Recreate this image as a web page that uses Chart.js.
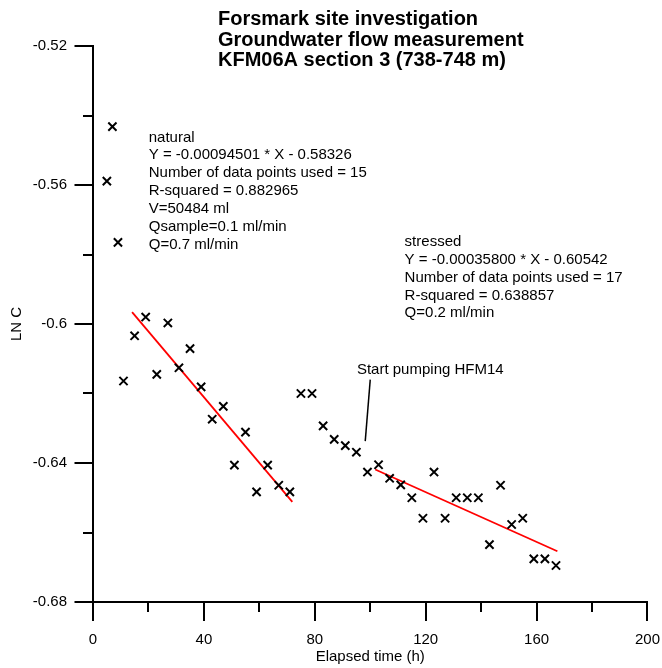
<!DOCTYPE html>
<html>
<head>
<meta charset="utf-8">
<script src="https://cdn.jsdelivr.net/npm/chart.js@4"></script>
<style>
  html, body { margin: 0; padding: 0; background: #fff; }
</style>
</head>
<body>
<canvas id="chart" width="662" height="668"></canvas>
<script>
// elapsed time (h) and LN C for each sample
const hours = [5, 7, 9, 11, 15, 19, 23, 27, 31, 35, 39, 43, 47, 51, 55, 59, 63, 67, 71, 75, 79,
  83, 87, 91, 95, 99, 103, 107, 111, 115, 119, 123, 127, 131, 135, 139, 143, 147, 151, 155, 159, 163, 167];
const lnC = [-0.5589, -0.5432, -0.5765, -0.6164, -0.6034, -0.5980, -0.6145, -0.5997, -0.6126, -0.6071, -0.6181, -0.6274, -0.6237, -0.6406, -0.6311, -0.6483, -0.6406, -0.6464, -0.6483, -0.6200, -0.6200,
  -0.6293, -0.6332, -0.6350, -0.6369, -0.6426, -0.6405, -0.6444, -0.6463, -0.6500, -0.6559, -0.6426, -0.6559, -0.6500, -0.6500, -0.6500, -0.6635, -0.6464, -0.6577, -0.6559, -0.6676, -0.6676, -0.6695];

// regression lines: slope, intercept, fitted time span
const natSlope = -0.00094501, natIntercept = -0.58326, natSpan = [14.1, 71.9];
const strSlope = -0.00035800, strIntercept = -0.60542, strSpan = [101.8, 167.5];

const natText = ['natural', 'Y = -0.00094501 * X - 0.58326', 'Number of data points used = 15',
  'R-squared = 0.882965', 'V=50484 ml', 'Qsample=0.1 ml/min', 'Q=0.7 ml/min'];
const strText = ['stressed', 'Y = -0.00035800 * X - 0.60542', 'Number of data points used = 17',
  'R-squared = 0.638857', 'Q=0.2 ml/min'];
const titleLines = ['Forsmark site investigation', 'Groundwater flow measurement', 'KFM06A section 3 (738-748 m)'];
const pumpLabel = 'Start pumping HFM14';
const pumpLine = [[100.0, -0.6160], [98.2, -0.6337]];

const FONT = '"Liberation Sans", Arial, sans-serif';

function fitLine(slope, icpt, span) {
  return span.map(x => ({ x: x, y: slope * x + icpt }));
}

const points = hours.map((h, i) => ({ x: h, y: lnC[i] }));

// axis ticks (long for labelled, short between), text blocks, title
const extras = {
  id: 'extras',
  afterDraw(chart) {
    const ctx = chart.ctx;
    const xs = chart.scales.x, ys = chart.scales.y;
    const a = chart.chartArea;
    ctx.save();
    ctx.strokeStyle = '#000';
    ctx.lineWidth = 2;
    ctx.beginPath();
    xs.ticks.forEach((t, i) => {
      const px = Math.round(xs.getPixelForValue(t.value));
      ctx.moveTo(px, a.bottom);
      ctx.lineTo(px, a.bottom + (i % 2 === 0 ? 19 : 10));
    });
    ys.ticks.forEach((t, i) => {
      const py = Math.round(ys.getPixelForValue(t.value));
      ctx.moveTo(a.left, py);
      ctx.lineTo(a.left - (i % 2 === 0 ? 18.5 : 10), py);
    });
    ctx.stroke();

    ctx.fillStyle = '#000';
    ctx.textBaseline = 'middle';
    ctx.textAlign = 'left';
    ctx.font = '15px ' + FONT;
    let x0 = xs.getPixelForValue(20.1), y0 = ys.getPixelForValue(-0.5463);
    natText.forEach((s, i) => ctx.fillText(s, x0, y0 + i * 17.9));
    x0 = xs.getPixelForValue(112.4); y0 = ys.getPixelForValue(-0.5765);
    strText.forEach((s, i) => ctx.fillText(s, x0, y0 + i * 17.7));
    ctx.fillText(pumpLabel, xs.getPixelForValue(95.2), ys.getPixelForValue(-0.6131));

    ctx.lineWidth = 1.5;
    ctx.beginPath();
    ctx.moveTo(xs.getPixelForValue(pumpLine[0][0]), ys.getPixelForValue(pumpLine[0][1]));
    ctx.lineTo(xs.getPixelForValue(pumpLine[1][0]), ys.getPixelForValue(pumpLine[1][1]));
    ctx.stroke();

    ctx.font = 'bold 20px ' + FONT;
    titleLines.forEach((s, i) => ctx.fillText(s, 218, 19.3 + i * 20.8));
    ctx.restore();
  }
};

new Chart(document.getElementById('chart'), {
  type: 'scatter',
  data: {
    datasets: [
      {
        label: 'LN C',
        data: points,
        pointStyle: 'crossRot',
        pointRadius: 5.8,
        borderColor: '#000',
        borderWidth: 2,
        showLine: false
      },
      {
        label: 'natural fit',
        type: 'line',
        data: fitLine(natSlope, natIntercept, natSpan),
        borderColor: '#ff0000',
        borderWidth: 1.8,
        pointRadius: 0
      },
      {
        label: 'stressed fit',
        type: 'line',
        data: fitLine(strSlope, strIntercept, strSpan),
        borderColor: '#ff0000',
        borderWidth: 1.8,
        pointRadius: 0
      }
    ]
  },
  options: {
    responsive: false,
    animation: false,
    devicePixelRatio: 1,
    layout: { padding: { top: 46, right: 14.5, left: 0, bottom: 0 } },
    plugins: { legend: { display: false }, tooltip: { enabled: false } },
    scales: {
      x: {
        type: 'linear',
        min: 0, max: 200,
        grid: { display: false, drawTicks: true, tickLength: 27 },
        border: { display: true, color: '#000', width: 2 },
        ticks: {
          stepSize: 20,
          autoSkip: false,
          maxRotation: 0,
          padding: 2,
          color: '#000',
          font: { family: FONT, size: 15 },
          callback: (v, i) => (i % 2 === 0 ? String(Math.round(v)) : '')
        },
        title: { display: true, text: 'Elapsed time (h)', color: '#000', font: { family: FONT, size: 15 }, padding: { top: 0, bottom: 2 } },
        afterFit: s => { s.height = 66; }
      },
      y: {
        type: 'linear',
        min: -0.68, max: -0.52,
        grid: { display: false, drawTicks: true, tickLength: 24 },
        border: { display: true, color: '#000', width: 2 },
        ticks: {
          stepSize: 0.02,
          autoSkip: false,
          padding: 2,
          color: '#000',
          font: { family: FONT, size: 15 },
          callback: (v, i) => (i % 2 === 0 ? String(Math.round(v * 100) / 100) : '')
        },
        title: { display: true, text: 'LN C', color: '#000', font: { family: FONT, size: 15 }, padding: { top: 8, bottom: 0 } },
        afterFit: s => { s.width = 93; }
      }
    }
  },
  plugins: [extras]
});
</script>
</body>
</html>
